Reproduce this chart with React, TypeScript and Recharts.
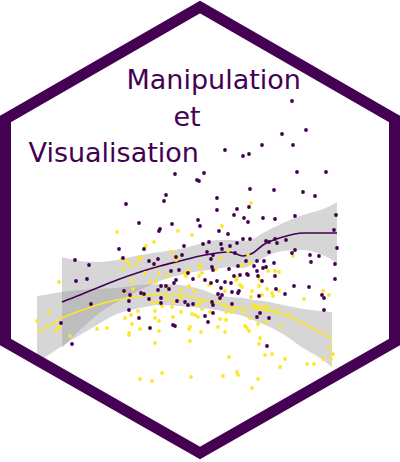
import React from 'react';
import { ComposedChart, XAxis, YAxis, Scatter, Area, Line } from 'recharts';

const PURPLE = '#440154';
const YELLOW = '#FDE725';

// points: [x, y] with y growing downward
const purplePts: [number, number][] = [
  [292, 101], [306, 130], [282, 134], [262, 145], [293, 145], [225, 150], [243, 156], [249, 154],
  [204, 173], [197, 180], [199, 181], [297, 172], [326, 172], [175, 174], [250, 189], [274, 190],
  [303, 192], [315, 196], [217, 198], [166, 195], [164, 201], [126, 204], [249, 207], [217, 210],
  [237, 209], [234, 215], [198, 220], [200, 226], [263, 218], [275, 219], [295, 216], [336, 215],
  [244, 218], [248, 222], [139, 223], [172, 224], [160, 229], [159, 231], [219, 231], [228, 234],
  [334, 230], [243, 239], [250, 239], [266, 241], [269, 242], [275, 239], [277, 243], [286, 240],
  [203, 244], [209, 242], [221, 244], [230, 246], [237, 243], [184, 246], [119, 249], [144, 249],
  [222, 249], [207, 252], [213, 255], [211, 259], [235, 253], [269, 252], [295, 250], [292, 253],
  [310, 255], [319, 256], [337, 248], [335, 264], [311, 262], [246, 261], [257, 261], [264, 261],
  [274, 263], [75, 260], [89, 265], [123, 258], [149, 261], [154, 264], [158, 259], [176, 257],
  [182, 255], [212, 267], [213, 270], [254, 266], [257, 271], [263, 268], [266, 267], [171, 271],
  [179, 270], [188, 273], [193, 279], [229, 269], [238, 266], [275, 276], [248, 275], [234, 276],
  [258, 276], [240, 275], [247, 274], [335, 279], [205, 280], [211, 283], [217, 281], [225, 282],
  [231, 283], [176, 280], [174, 283], [262, 281], [276, 289], [294, 286], [309, 287], [239, 291],
  [232, 292], [285, 294], [218, 294], [222, 295], [220, 298], [221, 288], [259, 296], [322, 295],
  [324, 298], [238, 293], [158, 290], [161, 286], [166, 286], [169, 289], [124, 291], [130, 295],
  [129, 301], [141, 293], [144, 294], [149, 299], [161, 298], [161, 303], [177, 301], [185, 302],
  [188, 305], [193, 304], [212, 302], [213, 305], [232, 304], [213, 313], [260, 313], [324, 310],
  [205, 316], [208, 322], [257, 317], [269, 318], [267, 346], [129, 310], [139, 318], [150, 328],
  [173, 325], [175, 326], [76, 281], [87, 279], [91, 304], [61, 323], [72, 344],
];

const yellowPts: [number, number][] = [
  [117, 232], [178, 231], [154, 242], [146, 246], [192, 235], [222, 226], [251, 203], [122, 259],
  [127, 261], [129, 265], [139, 259], [141, 258], [136, 264], [172, 252], [177, 257], [123, 269],
  [154, 265], [145, 273], [159, 273], [228, 251], [220, 258], [248, 255], [293, 256], [176, 260],
  [168, 276], [184, 273], [189, 270], [186, 276], [202, 273], [199, 276], [216, 269], [200, 265],
  [200, 267], [242, 265], [250, 263], [268, 271], [275, 271], [279, 272], [259, 279], [237, 278],
  [236, 280], [132, 281], [150, 281], [156, 282], [168, 288], [133, 289], [181, 290], [189, 286],
  [195, 291], [225, 291], [209, 285], [240, 285], [242, 287], [259, 286], [252, 291], [267, 289],
  [272, 293], [273, 296], [279, 291], [220, 299], [251, 297], [262, 295], [304, 299], [323, 291],
  [329, 295], [152, 303], [157, 302], [167, 298], [173, 302], [181, 298], [197, 305], [201, 302],
  [202, 309], [210, 312], [225, 305], [226, 312], [234, 310], [243, 312], [254, 305], [256, 306],
  [259, 307], [264, 307], [268, 307], [277, 310], [288, 315], [195, 315], [198, 317], [220, 319],
  [226, 320], [250, 318], [266, 322], [258, 324], [190, 327], [218, 327], [245, 326], [247, 328],
  [249, 331], [281, 326], [201, 332], [225, 332], [260, 338], [190, 341], [259, 344], [272, 354],
  [265, 355], [330, 348], [333, 354], [229, 357], [285, 359], [323, 359], [331, 359], [307, 364],
  [314, 364], [280, 367], [237, 372], [238, 375], [191, 377], [223, 376], [258, 379], [252, 388],
  [140, 379], [152, 381], [162, 373], [125, 318], [131, 315], [132, 324], [138, 311], [140, 329],
  [129, 335], [129, 333], [155, 318], [159, 321], [155, 311], [162, 306], [172, 307], [173, 317],
  [159, 331], [155, 343], [181, 312], [189, 329], [192, 314], [231, 312], [59, 282], [49, 312],
  [37, 321], [59, 327], [56, 330], [70, 336], [97, 329], [107, 328], [124, 292],
];

// smoother fits and their confidence bands
const purpleX = [62, 80, 97, 117, 140, 160, 180, 200, 217, 230, 243, 253, 263, 283, 303, 320, 332, 337];
const purpleFit = [302, 295, 288, 280, 272, 266, 261, 256, 253, 252, 256, 253, 245, 237, 233, 233, 233, 233];
const purpleLo = [257, 261, 262, 260, 255, 252, 249, 244, 240, 240, 241, 239, 233, 223, 215, 210, 205, 202];
const purpleHi = [348, 330, 315, 302, 290, 281, 275, 271, 269, 267, 268, 264, 258, 251, 250, 254, 260, 264];

const yellowX = [37, 50, 62, 80, 97, 117, 140, 160, 180, 200, 217, 230, 243, 253, 263, 283, 303, 320, 332];
const yellowFit = [332, 325, 318, 311, 305, 300, 296, 294, 295, 299, 303, 307, 308, 308, 310, 314, 323, 332, 339];
const yellowLo = [296, 294, 292, 290, 289, 288, 285, 284, 285, 289, 295, 297, 298, 300, 301, 305, 309, 311, 312];
const yellowHi = [362, 354, 346, 335, 325, 314, 308, 305, 306, 308, 310, 313, 316, 320, 324, 334, 348, 358, 367];

const purpleCurve = purpleX.map((x, i) => ({ x, fit: purpleFit[i], band: [purpleLo[i], purpleHi[i]] }));
const yellowCurve = yellowX.map((x, i) => ({ x, fit: yellowFit[i], band: [yellowLo[i], yellowHi[i]] }));

const toPoints = (pts: [number, number][]) => pts.map(([x, y]) => ({ x, y }));

const dot = (color: string) => (props: any) => (
  <circle cx={props.cx} cy={props.cy} r={1.9} fill={color} />
);

export default function App() {
  return (
    <div style={{ position: 'absolute', left: 0, top: 0, width: 400, height: 462, background: '#fff' }}>
      <ComposedChart width={400} height={462} margin={{ top: 0, right: 0, bottom: 0, left: 0 }}>
        <XAxis type="number" dataKey="x" domain={[0, 400]} hide allowDataOverflow />
        <YAxis type="number" domain={[0, 462]} reversed hide allowDataOverflow />
        <Scatter data={toPoints(yellowPts)} dataKey="y" shape={dot(YELLOW)} isAnimationActive={false} />
        <Scatter data={toPoints(purplePts)} dataKey="y" shape={dot(PURPLE)} isAnimationActive={false} />
        <Area data={purpleCurve} dataKey="band" type="monotone" stroke="none" fill="#999999" fillOpacity={0.4} dot={false} activeDot={false} isAnimationActive={false} />
        <Area data={yellowCurve} dataKey="band" type="monotone" stroke="none" fill="#999999" fillOpacity={0.4} dot={false} activeDot={false} isAnimationActive={false} />
        <Line data={purpleCurve} dataKey="fit" type="monotone" stroke={PURPLE} strokeWidth={1.6} dot={false} activeDot={false} isAnimationActive={false} />
        <Line data={yellowCurve} dataKey="fit" type="monotone" stroke={YELLOW} strokeWidth={1.6} dot={false} activeDot={false} isAnimationActive={false} />
      </ComposedChart>
      <svg width={400} height={462} style={{ position: 'absolute', left: 0, top: 0, pointerEvents: 'none' }}>
        <polygon
          points="200,7 394.5,119 394.5,342 200,453 5.5,342 5.5,119"
          fill="none"
          stroke={PURPLE}
          strokeWidth={11}
        />
        <g fontFamily="DejaVu Sans" fontSize={27} fill={PURPLE}>
          <text x={126.5} y={89}>Manipulation</text>
          <text x={173.5} y={126}>et</text>
          <text x={28.5} y={162}>Visualisation</text>
        </g>
      </svg>
    </div>
  );
}
